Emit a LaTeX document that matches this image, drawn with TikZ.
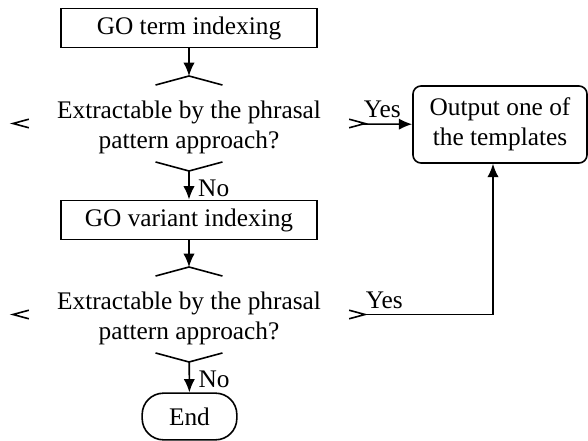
\documentclass[tikz,border=0pt]{standalone}
\usepackage{fontspec}
\setmainfont{Liberation Serif}
\usetikzlibrary{arrows.meta,shapes.geometric,calc}
\tikzset{
    process/.style={rectangle,draw,line width=1.2pt,minimum width=192pt,minimum height=29.5pt,inner sep=0pt},
    terminal/.style={rectangle,draw,line width=1.2pt,rounded corners=16pt,minimum width=71pt,minimum height=35pt},
    result/.style={rectangle,draw,line width=1.2pt,rounded corners=6pt,minimum width=130.5pt,minimum height=57.75pt,align=center},
    decision/.style={diamond,minimum width=264pt,minimum height=71.25pt,inner sep=0pt,outer sep=0pt},
    question/.style={align=center,inner sep=0pt},
    flow/.style={-{Latex[length=10pt,width=8.5pt]},line width=1.2pt},
    corner/.style={line width=1.2pt}
}

\begin{document}
\begin{tikzpicture}[x=0.75pt,y=-0.75pt,font=\fontsize{19}{22.5}\selectfont]

    \useasboundingbox (0,0) rectangle (588,441);

    \node[process]  (term)    at (189,28)    {GO term indexing};
    \node[decision] (dec 1)   at (189,123.5) {};
    \node[question] (dec 1 text) at (189,127) {Extractable by the phrasal\\pattern approach?};
    \node[process]  (variant) at (189,220)   {GO variant indexing};
    \node[decision] (dec 2)   at (189,314.5) {};
    \node[question] (dec 2 text) at (189,318) {Extractable by the phrasal\\pattern approach?};
    \node[terminal] (end)     at (189.5,416.5) {End};
    \node[result]   (out)     at (500,124.5) {Output one of\\the templates};

    % only the tips of the two decision diamonds are drawn
    \foreach \d in {dec 1,dec 2}{
        \draw[corner] ($(\d.north)!0.19!(\d.west)$) -- (\d.north) -- ($(\d.north)!0.19!(\d.east)$);
        \draw[corner] ($(\d.south)!0.19!(\d.west)$) -- (\d.south) -- ($(\d.south)!0.19!(\d.east)$);
        \draw[corner] ($(\d.west)!0.09!(\d.north)$) -- (\d.west) -- ($(\d.west)!0.09!(\d.south)$);
        \draw[corner] ($(\d.east)!0.09!(\d.north)$) -- (\d.east) -- ($(\d.east)!0.09!(\d.south)$);
    }

    \draw[flow] (term) -- (dec 1);
    \draw[flow] (dec 1) -- node[right=3pt,yshift=-2pt] {No} (variant);
    \draw[flow] (variant) -- (dec 2);
    \draw[flow] (dec 2) -- node[right=3pt,yshift=-2pt] {No} (end);
    \draw[flow] (dec 1) -- node[pos=0,anchor=south west,inner sep=0pt,yshift=4pt] {Yes} (out);
    \draw[flow] (dec 2.east) -- node[pos=0,anchor=south west,inner sep=0pt,yshift=4pt] {Yes} ++(128,0) -- ([xshift=-5.25pt]out.south);

\end{tikzpicture}
\end{document}
